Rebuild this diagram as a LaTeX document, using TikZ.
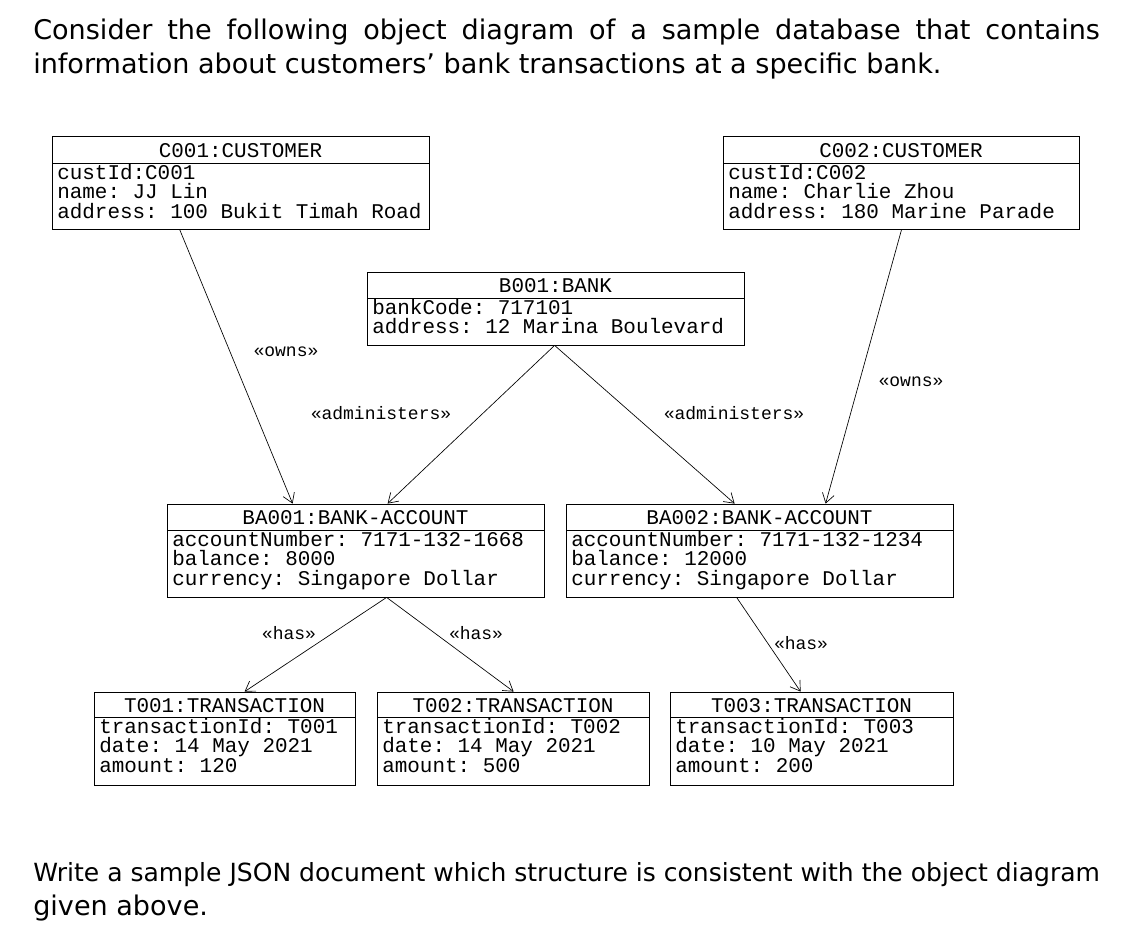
\documentclass[tikz,border=0pt]{standalone}
\usepackage{fontspec}
\setmainfont{DejaVu Sans}
\newfontfamily\monof{Liberation Mono}
\usetikzlibrary{fit,calc,arrows.meta}
\frenchspacing
\tikzstyle{objbox}=[draw,inner sep=0pt,line width=0.6pt]
\tikzstyle{objtitle}=[inner sep=0pt,font=\monof\fontsize{15.7}{14.6}\selectfont]
\tikzstyle{objattr}=[inner sep=0pt,anchor=north west,align=left,font=\monof\fontsize{15.7}{14.6}\selectfont]
\tikzstyle{rel}=[line width=0.5pt,-{Straight Barb[length=7pt,width=9pt]}]
\tikzstyle{stereo}=[inner sep=0pt,font=\monof\fontsize{13.5}{14}\selectfont]
\tikzstyle{prose}=[inner sep=0pt,anchor=west,font=\fontsize{20.3}{24}\selectfont]
% #1 name, #2-#5 corners, #6 divider, #7 title, #8 attributes
\newcommand{\objbox}[8]{
  \node[objbox,fit={(#2,#3) (#4,#5)}] (#1) {};
  \draw[line width=0.6pt] (#2,#6) -- (#4,#6);
  \node[objtitle] (#1-t) at ({(#2+#4)/2},{(#3+#6)/2+1}) {#7};
  \node[objattr] (#1-a) at (#2+5,#6+1) {#8};
}
\begin{document}
\begin{tikzpicture}[x=0.75pt,y=-0.75pt]
\useasboundingbox (0,0) rectangle (1141,952);
\node[prose] (q1) at (33,32) {\makebox[800pt][s]{Consider the following object diagram of a sample database that contains}};
\node[prose] (q2) at (33,66) {information about customers’ bank transactions at a specific bank.};

\objbox{c1}{52}{136}{429}{229}{163}{C001:CUSTOMER}{custId:C001\\name: JJ Lin\\address: 100 Bukit Timah Road}
\objbox{c2}{723}{136}{1079}{229}{163}{C002:CUSTOMER}{custId:C002\\name: Charlie Zhou\\address: 180 Marine Parade}
\objbox{b1}{367}{272}{744}{345}{298}{B001:BANK}{bankCode: 717101\\address: 12 Marina Boulevard}
\objbox{ba1}{167}{504}{544}{597}{530}{BA001:BANK-ACCOUNT}{accountNumber: 7171-132-1668\\balance: 8000\\currency: Singapore Dollar}
\objbox{ba2}{566}{504}{953}{597}{530}{BA002:BANK-ACCOUNT}{accountNumber: 7171-132-1234\\balance: 12000\\currency: Singapore Dollar}
\objbox{t1}{94}{692}{355}{785}{717}{T001:TRANSACTION}{transactionId: T001\\date: 14 May 2021\\amount: 120}
\objbox{t2}{377}{692}{649}{785}{717}{T002:TRANSACTION}{transactionId: T002\\date: 14 May 2021\\amount: 500}
\objbox{t3}{670}{692}{953}{785}{717}{T003:TRANSACTION}{transactionId: T003\\date: 10 May 2021\\amount: 200}

\draw[rel] ($(c1.south west)+(128,0)$) -- ($(ba1.north west)+(126,0)$);
\draw[rel] ($(c2.south west)+(179,0)$) -- ($(ba2.north west)+(260,0)$);
\draw[rel] ($(b1.south west)+(188,0)$) -- ($(ba1.north west)+(221,0)$);
\draw[rel] ($(b1.south west)+(188,0)$) -- ($(ba2.north west)+(169,0)$);
\draw[rel] ($(ba1.south west)+(220,0)$) -- ($(t1.north west)+(151,0)$);
\draw[rel] ($(ba1.south west)+(220,0)$) -- ($(t2.north west)+(137,0)$);
\draw[rel] ($(ba2.south west)+(171,0)$) -- ($(t3.north west)+(131,0)$);

\node[stereo] (s1) at (286,352) {«owns»};
\node[stereo] (s2) at (911,382) {«owns»};
\node[stereo] (s3) at (381,413) {«administers»};
\node[stereo] (s4) at (734,413) {«administers»};
\node[stereo] (s5) at (289,633) {«has»};
\node[stereo] (s6) at (476,633) {«has»};
\node[stereo] (s7) at (801,643) {«has»};

\node[prose] (w1) at (33,875) {\resizebox{800pt}{!}{Write a sample JSON document which structure is consistent with the object diagram}};
\node[prose] (w2) at (33,908) {given above.};
\end{tikzpicture}
\end{document}
